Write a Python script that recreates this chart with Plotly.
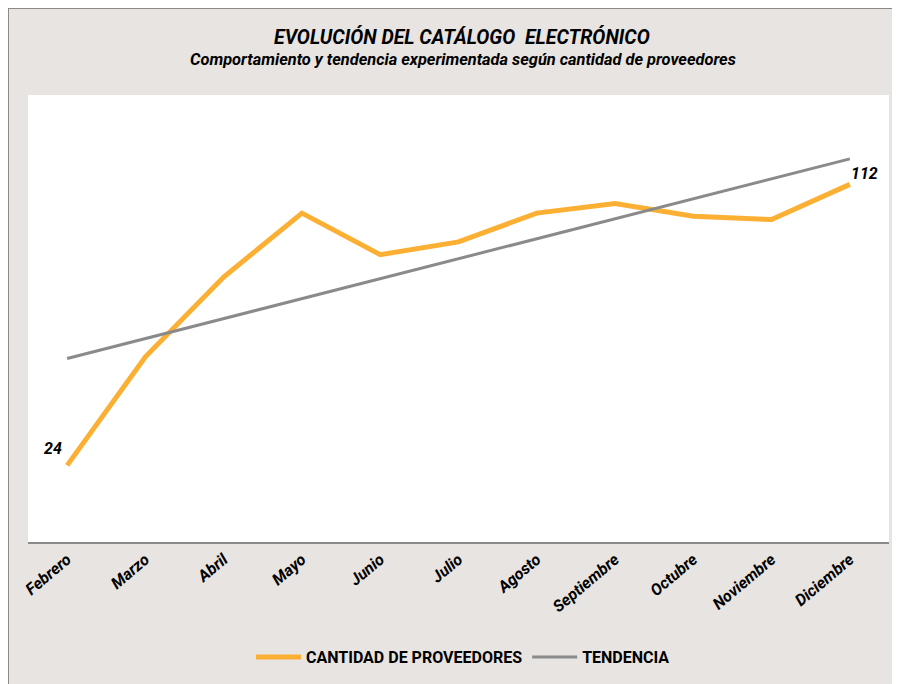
import numpy as np
import plotly.graph_objects as go

months = ["Febrero", "Marzo", "Abril", "Mayo", "Junio", "Julio", "Agosto",
          "Septiembre", "Octubre", "Noviembre", "Diciembre"]
proveedores = [24, 58, 83, 103, 90, 94, 103, 106, 102, 101, 112]

# Linear trend (least squares) of the supplier counts, as in the original chart
idx = np.arange(len(proveedores))
slope, intercept = np.polyfit(idx, proveedores, 1)
tendencia = list(intercept + slope * idx)

ORANGE = "#FBB034"
GRAY = "#8A8A8A"
BEIGE = "#E8E4E1"
FONT = "Roboto"

fig = go.Figure()
fig.add_trace(go.Scatter(
    x=months, y=proveedores, name="CANTIDAD DE PROVEEDORES",
    mode="lines", line=dict(color=ORANGE, width=5),
))
fig.add_trace(go.Scatter(
    x=months, y=tendencia, name="TENDENCIA",
    mode="lines", line=dict(color=GRAY, width=3),
))

# plot area spans figure px 20..881 horizontally, 87..534 vertically
def px_x(p):
    return (p - 20) / 861.0

def px_y(p):
    return (534 - p) / 447.0

label_font = dict(family=FONT, size=16, color="black", weight="bold", style="italic")

fig.update_layout(
    width=900, height=684,
    margin=dict(l=20, r=19, t=87, b=150),
    paper_bgcolor=BEIGE, plot_bgcolor="white",
    font=dict(family=FONT, color="black"),
    showlegend=True,
    legend=dict(orientation="h", x=px_x(455), xanchor="center",
                y=px_y(649), yanchor="middle", bgcolor="rgba(0,0,0,0)",
                font=dict(family=FONT, size=16, color="black", weight="bold"),
                itemwidth=45, tracegroupgap=0),
    xaxis=dict(range=[-0.5, 10.5], showgrid=False, zeroline=False,
               showline=True, linecolor=GRAY, linewidth=2,
               ticks="", tickangle=-40,
               tickfont=dict(family=FONT, size=16, color="black", style="italic", weight="bold")),
    yaxis=dict(range=[0, 140], showgrid=False, zeroline=False, showline=False,
               showticklabels=False, ticks=""),
    shapes=[
        dict(type="rect", xref="paper", yref="paper", layer="above",
             x0=px_x(0), x1=px_x(905), y0=px_y(0), y1=px_y(700),
             fillcolor="rgba(0,0,0,0)", line=dict(color=GRAY, width=2)),
    ],
    annotations=[
        dict(text="EVOLUCIÓN DEL CATÁLOGO  ELECTRÓNICO", xref="paper", yref="paper",
             x=px_x(454), y=px_y(29), xanchor="center", yanchor="middle", showarrow=False,
             font=dict(family=FONT, size=19.5, color="black", weight="bold", style="italic")),
        dict(text="Comportamiento y tendencia experimentada según cantidad de proveedores",
             xref="paper", yref="paper",
             x=px_x(455), y=px_y(52), xanchor="center", yanchor="middle", showarrow=False,
             font=dict(family=FONT, size=16.4, color="black", weight="bold", style="italic")),
        dict(text=str(proveedores[0]), x=months[0], y=proveedores[0],
             xref="x", yref="y", showarrow=False, xshift=-14, yshift=17,
             font=label_font),
        dict(text=str(proveedores[-1]), x=months[-1], y=proveedores[-1],
             xref="x", yref="y", showarrow=False, xshift=15, yshift=11,
             font=label_font),
    ],
)

fig.write_html("out.html")
